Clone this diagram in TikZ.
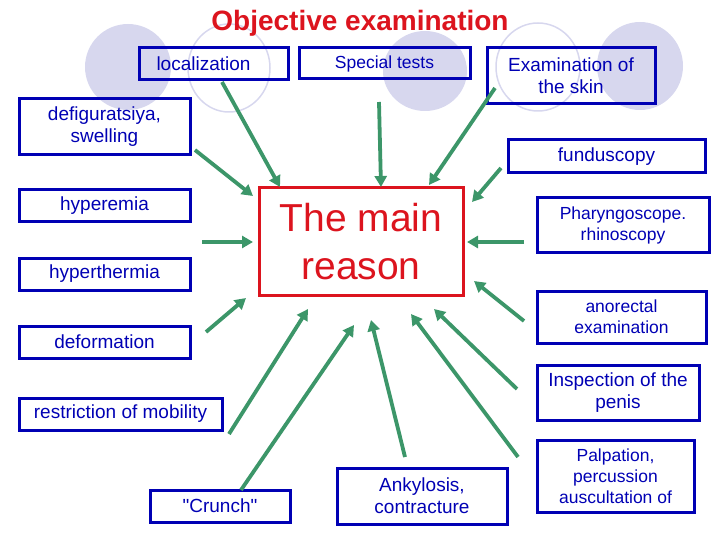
\documentclass[tikz,border=0pt]{standalone}
\usepackage{fontspec}
\setmainfont{Liberation Sans}[Ligatures=TeXOff]
\usetikzlibrary{arrows.meta}
\definecolor{bbl}{RGB}{0,0,180}
\definecolor{rd}{RGB}{220,20,30}
\definecolor{gr}{RGB}{60,150,105}
\definecolor{lav}{RGB}{215,215,238}
\begin{document}
\begin{tikzpicture}[x=1pt,y=-1pt,
  bx/.style={draw=bbl,line width=3pt,text=bbl,align=center,inner sep=1pt,font=\fontsize{19}{22}\selectfont},
  sm/.style={font=\fontsize{17.5}{21}\selectfont},
  ar/.style={draw=gr,line width=3.8pt,-{Triangle[length=11pt,width=12pt]}}]
\useasboundingbox (0,0) rectangle (720,540);
\fill[lav] (128,67) ellipse (43 and 43);
\draw[lav,line width=1.5pt] (229,68) ellipse (41 and 44);
\fill[lav] (425,71) ellipse (42 and 40);
\draw[lav,line width=1.5pt] (538,67) ellipse (42 and 44);
\fill[lav] (640,66) ellipse (43 and 44);
\node[font=\bfseries\fontsize{28}{32}\selectfont,text=rd] (title) at (360,23) {Objective examination};
\node[bx,minimum width=149pt,minimum height=32pt] (loc) at (213.5,64) {localization\hspace*{20pt}};
\node[bx,sm,minimum width=171pt,minimum height=31pt] (spec) at (384.5,63.5) {Special tests};
\node[bx,minimum width=168pt,minimum height=56pt] (skin) at (571,76) {Examination of\\the skin};
\node[bx,minimum width=171pt,minimum height=56pt] (def) at (104.5,127) {defiguratsiya,\\swelling};
\node[bx,minimum width=197pt,minimum height=33pt] (fun) at (606.5,156.5) {funduscopy};
\node[bx,minimum width=171pt,minimum height=32pt] (hyp) at (104.5,206) {hyperemia};
\node[bx,minimum width=171pt,minimum height=32pt] (hth) at (104.5,274) {hyperthermia};
\node[bx,sm,minimum width=172pt,minimum height=54pt] (phar) at (623,225) {Pharyngoscope.\\rhinoscopy};
\node[bx,sm,minimum width=169pt,minimum height=52pt] (ano) at (621.5,317) {anorectal\\examination};
\node[bx,minimum width=171pt,minimum height=32pt] (defo) at (104.5,342) {deformation};
\node[bx,minimum width=162pt,minimum height=55pt] (insp) at (618,393) {Inspection of the\\penis};
\node[bx,minimum width=203pt,minimum height=32pt] (rest) at (120.5,414) {restriction of mobility};
\node[bx,minimum width=140pt,minimum height=32pt] (cr) at (220,506) {"Crunch"};
\node[bx,minimum width=170pt,minimum height=56pt] (ank) at (422,496) {Ankylosis,\\contracture};
\node[bx,sm,minimum width=157pt,minimum height=72pt] (pal) at (615.5,476) {Palpation,\\percussion\\auscultation of};
\node[draw=rd,line width=3pt,text=rd,align=center,minimum width=204pt,minimum height=107pt,font=\fontsize{39}{48}\selectfont] (main) at (361,241.5) {The main\\reason};
\coordinate (a1) at (222,82); \coordinate (b1) at (280,187);
\coordinate (a2) at (379,102); \coordinate (b2) at (381,187);
\coordinate (a3) at (495,88); \coordinate (b3) at (429,185);
\coordinate (a4) at (195,150); \coordinate (b4) at (253,196);
\coordinate (a5) at (501,168); \coordinate (b5) at (472,202);
\coordinate (a6) at (202,242); \coordinate (b6) at (253,242);
\coordinate (a7) at (524,242); \coordinate (b7) at (467,242);
\coordinate (a8) at (524,321); \coordinate (b8) at (474,281);
\coordinate (a9) at (206,332); \coordinate (b9) at (246,298);
\coordinate (a10) at (229,434); \coordinate (b10) at (308,309);
\coordinate (a11) at (241,490); \coordinate (b11) at (354,325);
\coordinate (a12) at (405,457); \coordinate (b12) at (371,320);
\coordinate (a13) at (518,457); \coordinate (b13) at (411,314);
\coordinate (a14) at (517,389); \coordinate (b14) at (434,309);
\foreach \i in {1,...,14} \draw[ar] (a\i) -- (b\i);
\end{tikzpicture}
\end{document}
